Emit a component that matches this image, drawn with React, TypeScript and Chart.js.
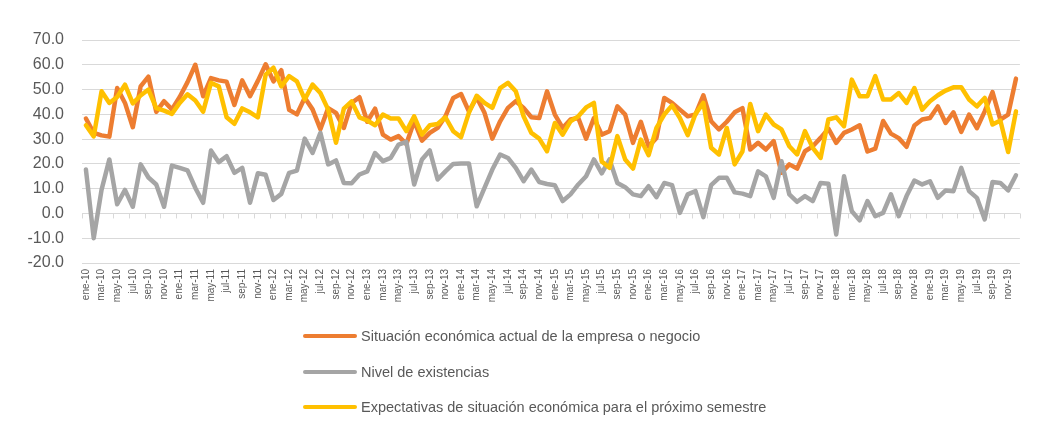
import { useEffect, useRef } from "react";
import { Chart, registerables } from "chart.js";

Chart.register(...registerables);

const monthNames = ["ene", "feb", "mar", "abr", "may", "jun", "jul", "ago", "sep", "oct", "nov", "dic"];
const yearSuffixes = ["10", "11", "12", "13", "14", "15", "16", "17", "18", "19"];
const categories = yearSuffixes.flatMap((y) => monthNames.map((m) => `${m}-${y}`));

const seriesNames = [
  "Situación económica actual de la empresa o negocio",
  "Nivel de existencias",
  "Expectativas de situación económica para el próximo semestre",
];
const seriesColors = ["#ED7D31", "#A5A5A5", "#FFC000"];

const situacionActual = [
  38.3, 32.5, 31.5, 31, 50.6, 44.6, 34.8, 51.3, 55.2, 41, 45.3, 42,
  47, 53, 60, 47.3, 54.6, 53.7, 53.2, 43.8, 53.7, 47.3, 53.5, 60.2,
  53.3, 57.8, 41.8, 40, 46.7, 42, 34, 42.5, 40.6, 34.5, 44.6, 46.9,
  37, 42.3, 31.8, 29.8, 31.2, 28, 37.2, 29.4, 32.5, 34.5, 39.2, 46.6,
  48.2, 41.2, 46.8, 40.6, 30.2, 37.2, 42.6, 45.3, 42.6, 38.8, 38.5, 49.3,
  39.9, 34.5, 37.9, 38.5, 30.2, 38.5, 31.8, 33.2, 43.2, 39.9, 28.5, 37,
  27, 30.5, 46.6, 44.6, 41.9, 39.2, 40, 47.7, 37.2, 33.9, 37, 40.8,
  42.5, 25.8, 28.5, 25.8, 29.2, 16.4, 19.8, 18.1, 25.1, 27.1, 30.5, 34.2,
  28.5, 32.5, 33.9, 35.6, 25, 26.2, 37.3, 32.2, 30.4, 26.9, 35.5, 37.9,
  38.5, 43.2, 36.5, 40.8, 32.9, 39.9, 34.4, 41.2, 49, 37.9, 39.9, 54.4,
];

const nivelExistencias = [
  17.7, -10, 9.5, 21.8, 3.7, 9.5, 2.7, 19.8, 14.5, 11.7, 2.7, 19.3,
  18.4, 17.4, 10.3, 4.3, 25.4, 20.7, 23.1, 16.4, 18.4, 4.3, 16.2, 15.6,
  5.4, 7.9, 16.4, 17.3, 30.2, 24.4, 32.5, 19.8, 21.4, 12.3, 12.2, 15.7,
  17, 24.4, 21.1, 22.4, 27.8, 28.9, 11.7, 21.8, 25.4, 13.7, 17, 20,
  20.2, 20.2, 2.9, 10.3, 17.7, 23.8, 22.4, 18.4, 13, 17.7, 12.7, 11.9,
  11.4, 5, 7.7, 11.7, 15, 21.8, 16.2, 21.8, 12.3, 10.6, 7.7, 7,
  11, 6.6, 12.3, 11.4, 0.2, 7.7, 9, -1.5, 11.4, 14.4, 14.4, 8.5,
  8, 7, 17, 15, 6.3, 21.1, 7.7, 4.7, 7, 5, 12.3, 12,
  -8.5, 15, 0.9, -2.8, 5, -1.1, 0.2, 7.7, -1.1, 7, 13.3, 11.7,
  13, 6.3, 9.3, 9, 18.4, 9, 6.3, -2.4, 12.7, 12.3, 9.3, 15.4,
];

const expectativas = [
  35.6, 31.1, 49.3, 44.6, 47, 52, 44.4, 47.6, 50, 42.5, 41.5, 40.2,
  44.6, 48.1, 45.6, 41.1, 52.7, 51.3, 38.8, 36.2, 42.4, 40.8, 38.8, 56,
  58.8, 51.3, 55.4, 53.3, 46, 52, 48.6, 41.9, 28.5, 42.3, 45.2, 38.8,
  37.5, 35.6, 39.9, 38.3, 38.3, 33.2, 39.2, 31.8, 35.6, 36.1, 38.8, 33.2,
  30.8, 40.6, 47.5, 44.6, 42.6, 50.6, 52.7, 49.3, 39.2, 32.5, 30.2, 25.1,
  36.5, 31.8, 37.2, 39.2, 42.8, 44.6, 21, 18.4, 31.2, 21.8, 18.1, 29.8,
  23.5, 34.5, 39.9, 43.6, 38.5, 31.6, 40.2, 44.6, 26.5, 23.8, 34.5, 19.8,
  25, 44.2, 33.2, 39.9, 35.9, 33.9, 27.1, 23.8, 33.2, 26.5, 22.4, 37.9,
  38.8, 35.2, 54, 47.3, 47.3, 55.4, 46, 46, 48.6, 44.6, 50.6, 41.9,
  45.3, 47.7, 49.6, 50.9, 50.9, 46, 43.2, 46.6, 35.9, 37.5, 24.8, 41.2,
];

const yMin = -20;
const yMax = 70;
const yStep = 10;

const FONT = "'Liberation Sans', Arial, sans-serif";
const TEXT = "#595959";
const GRID = "#d9d9d9";

export default function App() {
  const ref = useRef<HTMLCanvasElement>(null);

  useEffect(() => {
    if (!ref.current) return;
    const zeroTicks = {
      id: "zeroTicks",
      beforeDatasetsDraw(chart: any) {
        const { ctx, chartArea, scales } = chart;
        const y0 = scales.y.getPixelForValue(0);
        const step = (chartArea.right - chartArea.left) / categories.length;
        ctx.save();
        ctx.strokeStyle = GRID;
        ctx.lineWidth = 1;
        for (let k = 0; k <= categories.length; k += 2) {
          const px = Math.round(chartArea.left + k * step) + 0.5;
          ctx.beginPath();
          ctx.moveTo(px, y0);
          ctx.lineTo(px, y0 + 5);
          ctx.stroke();
        }
        ctx.restore();
      },
    };

    const series = [situacionActual, nivelExistencias, expectativas];
    const chart = new Chart(ref.current, {
      type: "line",
      data: {
        labels: categories,
        datasets: series.map((d, i) => ({
          label: seriesNames[i],
          data: d,
          borderColor: seriesColors[i],
          backgroundColor: seriesColors[i],
          borderWidth: 4.5,
          pointRadius: 0,
          tension: 0,
          borderJoinStyle: "round" as const,
          borderCapStyle: "round" as const,
          order: 2 - i,
        })),
      },
      options: {
        animation: false,
        responsive: true,
        maintainAspectRatio: false,
        layout: { padding: { top: 32, right: 7, bottom: 113, left: 0 } },
        plugins: {
          legend: { display: false },
          tooltip: { enabled: false },
        },
        scales: {
          x: {
            offset: true,
            grid: { display: false, drawTicks: false },
            border: { display: false },
            ticks: {
              autoSkip: false,
              maxRotation: 90,
              minRotation: 90,
              padding: 6,
              color: TEXT,
              font: { family: FONT, size: 10 },
              callback: (_v: any, idx: number) => (idx % 2 === 0 ? categories[idx] : ""),
            },
            afterFit: (s: any) => {
              s.height = 45;
            },
          },
          y: {
            min: yMin,
            max: yMax,
            grid: { color: GRID, lineWidth: 1, drawTicks: false },
            border: { display: false },
            ticks: {
              stepSize: yStep,
              padding: 18,
              color: TEXT,
              font: { family: FONT, size: 16 },
              callback: (v: any) => Number(v).toFixed(1),
            },
            afterFit: (s: any) => {
              s.width = 74;
            },
          },
        },
      },
      plugins: [zeroTicks],
    });
    return () => chart.destroy();
  }, []);

  return (
    <div style={{ position: "relative", width: 1026, height: 413 }}>
      <div
        style={{
          position: "absolute",
          left: -1,
          top: -8,
          width: 1,
          height: 429,
          background: GRID,
        }}
      />
      <canvas ref={ref} />
      <div style={{ position: "absolute", left: 295, top: 310, fontFamily: FONT, fontSize: 14.5, color: TEXT }}>
        {seriesNames.map((n, i) => (
          <div key={n} style={{ display: "flex", alignItems: "center", height: 35.7, whiteSpace: "nowrap" }}>
            <span
              style={{
                display: "inline-block",
                width: 54,
                height: 4,
                borderRadius: 2,
                background: seriesColors[i],
                marginRight: 4,
              }}
            />
            <span>{n}</span>
          </div>
        ))}
      </div>
    </div>
  );
}
